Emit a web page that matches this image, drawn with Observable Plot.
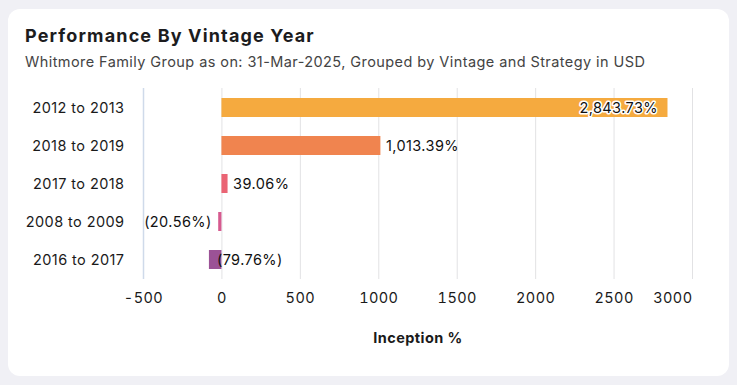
<!DOCTYPE html>
<html>
<head>
<meta charset="utf-8">
<script src="https://cdn.jsdelivr.net/npm/d3@7"></script>
<script src="https://cdn.jsdelivr.net/npm/@observablehq/plot@0.6"></script>
<style>
  html, body { margin: 0; padding: 0; }
  body { width: 737px; height: 385px; background: #f0f0f5; position: relative; overflow: hidden; font-family: Inter, "Noto Sans", sans-serif; }
  #card { position: absolute; left: 8px; top: 9px; width: 721px; height: 367px; background: #fff; border-radius: 12px; }
  #title { position: absolute; left: 25px; top: 26.5px; font-size: 18px; line-height: 18px; font-weight: 700; letter-spacing: 1.15px; color: #1c1c1e; white-space: nowrap; }
  #subtitle { position: absolute; left: 25px; top: 55px; font-size: 14.5px; line-height: 14px; letter-spacing: 0.42px; color: #444; white-space: nowrap; }
  #chart { position: absolute; left: 0; top: 70px; }
  #chart svg { font-family: Inter, "Noto Sans", sans-serif; overflow: visible; letter-spacing: 0.42px; }
  #chart g[aria-label="x-axis label"] text { font-weight: 700; }
</style>
</head>
<body>
<div id="card"></div>
<div id="title">Performance By Vintage Year</div>
<div id="subtitle">Whitmore Family Group as on: 31-Mar-2025, Grouped by Vintage and Strategy in USD</div>
<div id="chart"></div>
<script>
const vintages = ["2012 to 2013", "2018 to 2019", "2017 to 2018", "2008 to 2009", "2016 to 2017"];
const inceptionPct = [2843.73, 1013.39, 39.06, -20.56, -79.76];
const barColors = ["#f5aa3f", "#f0844f", "#ea6474", "#d65a8f", "#9b5296"];
const xTicks = [-500, 0, 500, 1000, 1500, 2000, 2500, 3000];
const xLabel = "Inception %";

const W = 737, H = 300;
const marginLeft = 143, marginRight = 45, marginTop = 18, marginBottom = 91;
const FS = 14.5, LS = 0.42;

const fmt = v => {
  const s = d3.format(",.2f")(Math.abs(v)) + "%";
  return v < 0 ? "(" + s + ")" : s;
};

const ctx = document.createElement("canvas").getContext("2d");
ctx.font = FS + "px Inter";
const xScale = d3.scaleLinear().domain([-500, 3000]).range([marginLeft, W - marginRight]);
const maxV = d3.max(inceptionPct);

const data = vintages.map((v, i) => {
  const value = inceptionPct[i];
  const label = fmt(value);
  const w = ctx.measureText(label).width + label.length * LS;
  let lx, kind;
  if (value > maxV * 0.5) { lx = value; kind = "inside"; }
  else if (value >= 0) { lx = value; kind = "right"; }
  else if (xScale(value) - w - 7 > marginLeft - 2) { lx = value; kind = "left"; }
  else { lx = 0; kind = "zero"; }
  return { vintage: v, value, color: barColors[i], label, lx, kind };
});

const labelMark = (kind, anchor, dx, halo) => Plot.text(data, {
  filter: d => d.kind === kind,
  x: "lx", y: "vintage", text: "label",
  textAnchor: anchor, dx,
  fontSize: FS, fill: "#111",
  ...(halo ? { stroke: "white", strokeWidth: 3 } : {})
});

const chart = Plot.plot({
  width: W, height: H,
  marginLeft, marginRight, marginTop, marginBottom,
  style: { fontSize: FS + "px", color: "#1a1a1a", background: "transparent" },
  x: { domain: [-500, 3000] },
  y: { domain: vintages, paddingInner: 0.5, paddingOuter: 0.25 },
  marks: [
    Plot.gridX(xTicks, { stroke: "#e2e2e4", strokeOpacity: 1 }),
    Plot.ruleX([-500], { stroke: "#cfdaea", strokeWidth: 1.5 }),
    Plot.barX(data, { x: "value", y: "vintage", fill: "color" }),
    labelMark("inside", "end", -10, true),
    labelMark("right", "start", 5, false),
    labelMark("left", "end", -7, false),
    labelMark("zero", "start", -5, false),
    Plot.axisY({ tickSize: 0, tickPadding: 19, fontSize: FS, label: null }),
    Plot.axisX({ ticks: xTicks.slice(0, -1), tickFormat: d => String(d), tickSize: 0, tickPadding: 13, fontSize: FS,
                 label: xLabel, labelAnchor: "center", labelArrow: "none", labelOffset: 63 }),
    Plot.axisX({ ticks: xTicks.slice(-1), tickFormat: d => String(d), tickSize: 0, tickPadding: 13, fontSize: FS,
                 textAnchor: "end", label: null })
  ]
});
document.getElementById("chart").appendChild(chart);
</script>
</body>
</html>
